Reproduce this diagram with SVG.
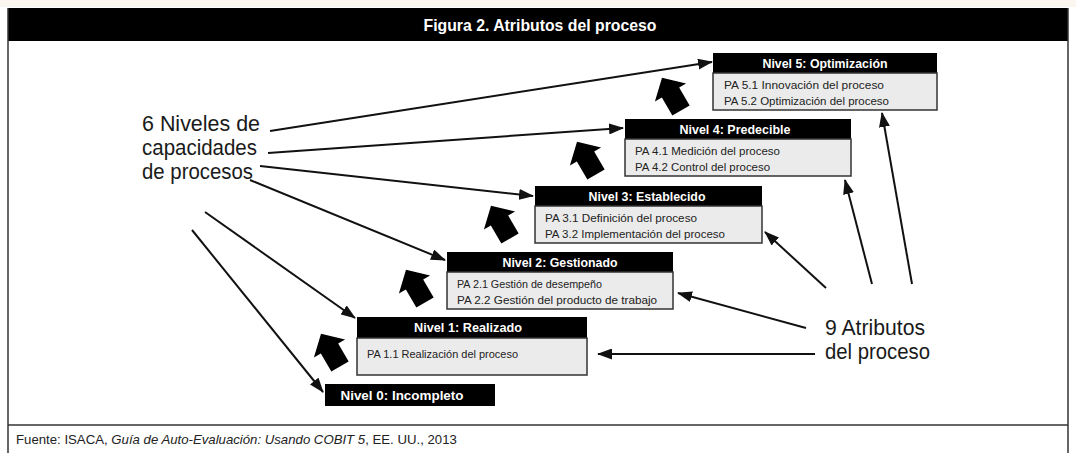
<svg xmlns="http://www.w3.org/2000/svg" xmlns:xlink="http://www.w3.org/1999/xlink" width="1076" height="453" viewBox="0 0 1076 453">
<style>
.hdr{fill:#000}
.body{fill:#ebebeb;stroke:#333;stroke-width:1.5}
.ht{font-family:"Liberation Sans",Arial,sans-serif;font-weight:bold;font-size:13px;fill:#fff;text-anchor:middle}
.bt{font-family:"Liberation Sans",Arial,sans-serif;font-size:11.5px;fill:#222}
.big{font-family:"Liberation Sans",Arial,sans-serif;font-size:22.5px;fill:#1a1a1a}
.ft{font-family:"Liberation Sans",Arial,sans-serif;font-size:13.2px;fill:#222}
.conn{stroke:#111;stroke-width:2;fill:none;marker-end:url(#ah)}
.blk{fill:#000}
</style>
<defs>
<marker id="ah" markerUnits="userSpaceOnUse" markerWidth="15" markerHeight="11" refX="14" refY="5.5" orient="auto">
<path d="M0,0 L15,5.5 L0,11 Z" fill="#111"/>
</marker>
<path id="barrow" d="M0,-20 L18,-3 L10,-3 L10,18 L-10,18 L-10,-3 L-18,-3 Z"/>
</defs>
<rect x="0" y="0" width="1076" height="453" fill="#fff"/>
<rect x="0" y="0" width="1076" height="7" fill="#fbf6ef"/>
<g id="frame">
<rect x="8" y="8" width="1060" height="33" fill="#000"/>
<line x1="8" y1="8" x2="8" y2="453" stroke="#333" stroke-width="1.5"/>
<line x1="1068" y1="8" x2="1068" y2="453" stroke="#333" stroke-width="1.5"/>
<line x1="8" y1="425" x2="1068" y2="425" stroke="#333" stroke-width="1.5"/>
<text x="540" y="31" font-family="'Liberation Sans',Arial,sans-serif" font-weight="bold" font-size="17" fill="#fff" text-anchor="middle" textLength="233" lengthAdjust="spacingAndGlyphs">Figura 2. Atributos del proceso</text>
</g>
<g id="block-arrows" class="blk">
<use xlink:href="#barrow" transform="translate(331,351) rotate(-30)"/>
<use xlink:href="#barrow" transform="translate(416,287) rotate(-30)"/>
<use xlink:href="#barrow" transform="translate(501,223) rotate(-30)"/>
<use xlink:href="#barrow" transform="translate(587,159) rotate(-30)"/>
<use xlink:href="#barrow" transform="translate(672,95) rotate(-30)"/>
</g>
<g id="nivel5">
<rect class="hdr" x="713" y="53" width="224" height="20"/>
<rect class="body" x="713" y="73" width="224" height="37"/>
<text class="ht" x="825" y="68" textLength="125" lengthAdjust="spacingAndGlyphs">Nivel 5: Optimización</text>
<text class="bt" x="724" y="89" textLength="160" lengthAdjust="spacingAndGlyphs">PA 5.1 Innovación del proceso</text>
<text class="bt" x="724" y="105" textLength="165" lengthAdjust="spacingAndGlyphs">PA 5.2 Optimización del proceso</text>
</g>
<g id="nivel4">
<rect class="hdr" x="625" y="119" width="226" height="20"/>
<rect class="body" x="625" y="139" width="226" height="37"/>
<text class="ht" x="735" y="134" textLength="111" lengthAdjust="spacingAndGlyphs">Nivel 4: Predecible</text>
<text class="bt" x="635" y="155" textLength="145" lengthAdjust="spacingAndGlyphs">PA 4.1 Medición del proceso</text>
<text class="bt" x="635" y="171" textLength="135" lengthAdjust="spacingAndGlyphs">PA 4.2 Control del proceso</text>
</g>
<g id="nivel3">
<rect class="hdr" x="535" y="186" width="227" height="20"/>
<rect class="body" x="535" y="206" width="227" height="37"/>
<text class="ht" x="647" y="201" textLength="117" lengthAdjust="spacingAndGlyphs">Nivel 3: Establecido</text>
<text class="bt" x="545" y="222" textLength="152" lengthAdjust="spacingAndGlyphs">PA 3.1 Definición del proceso</text>
<text class="bt" x="545" y="238" textLength="180" lengthAdjust="spacingAndGlyphs">PA 3.2 Implementación del proceso</text>
</g>
<g id="nivel2">
<rect class="hdr" x="447" y="252" width="226" height="20"/>
<rect class="body" x="447" y="272" width="226" height="37"/>
<text class="ht" x="560" y="267" textLength="115" lengthAdjust="spacingAndGlyphs">Nivel 2: Gestionado</text>
<text class="bt" x="457" y="288" textLength="145" lengthAdjust="spacingAndGlyphs">PA 2.1 Gestión de desempeño</text>
<text class="bt" x="457" y="304" textLength="200" lengthAdjust="spacingAndGlyphs">PA 2.2 Gestión del producto de trabajo</text>
</g>
<g id="nivel1">
<rect class="hdr" x="357" y="317" width="230" height="21"/>
<rect class="body" x="357" y="338" width="230" height="37"/>
<text class="ht" x="468" y="332" textLength="108" lengthAdjust="spacingAndGlyphs">Nivel 1: Realizado</text>
<text class="bt" x="367" y="358" textLength="151" lengthAdjust="spacingAndGlyphs">PA 1.1 Realización del proceso</text>
</g>
<g id="nivel0">
<rect class="hdr" x="325" y="384" width="170" height="22"/>
<text class="ht" x="402" y="400" textLength="123" lengthAdjust="spacingAndGlyphs">Nivel 0: Incompleto</text>
</g>
<g id="label-niveles">
<text class="big" x="142" y="131" textLength="118" lengthAdjust="spacingAndGlyphs">6 Niveles de</text>
<text class="big" x="142" y="155" textLength="115" lengthAdjust="spacingAndGlyphs">capacidades</text>
<text class="big" x="142" y="179" textLength="111" lengthAdjust="spacingAndGlyphs">de procesos</text>
</g>
<g id="label-atributos">
<text class="big" x="825" y="335" textLength="100" lengthAdjust="spacingAndGlyphs">9 Atributos</text>
<text class="big" x="825" y="359" textLength="105" lengthAdjust="spacingAndGlyphs">del proceso</text>
</g>
<g id="connectors">
<line class="conn" x1="270" y1="131" x2="712" y2="62"/>
<line class="conn" x1="268" y1="153" x2="623" y2="128"/>
<line class="conn" x1="260" y1="166" x2="533" y2="196"/>
<line class="conn" x1="250" y1="180" x2="445" y2="260"/>
<line class="conn" x1="205" y1="212" x2="355" y2="318"/>
<line class="conn" x1="192" y1="230" x2="323" y2="392"/>
<line class="conn" x1="815" y1="354" x2="598" y2="354"/>
<line class="conn" x1="806" y1="328" x2="678" y2="293"/>
<line class="conn" x1="826" y1="288" x2="765" y2="232"/>
<line class="conn" x1="872" y1="284" x2="845" y2="180"/>
<line class="conn" x1="912" y1="284" x2="882" y2="113"/>
</g>
<g id="footer">
<text class="ft" x="16" y="444">Fuente: ISACA, <tspan font-style="italic">Guía de Auto-Evaluación: Usando COBIT 5</tspan>, EE. UU., 2013</text>
</g>
</svg>
